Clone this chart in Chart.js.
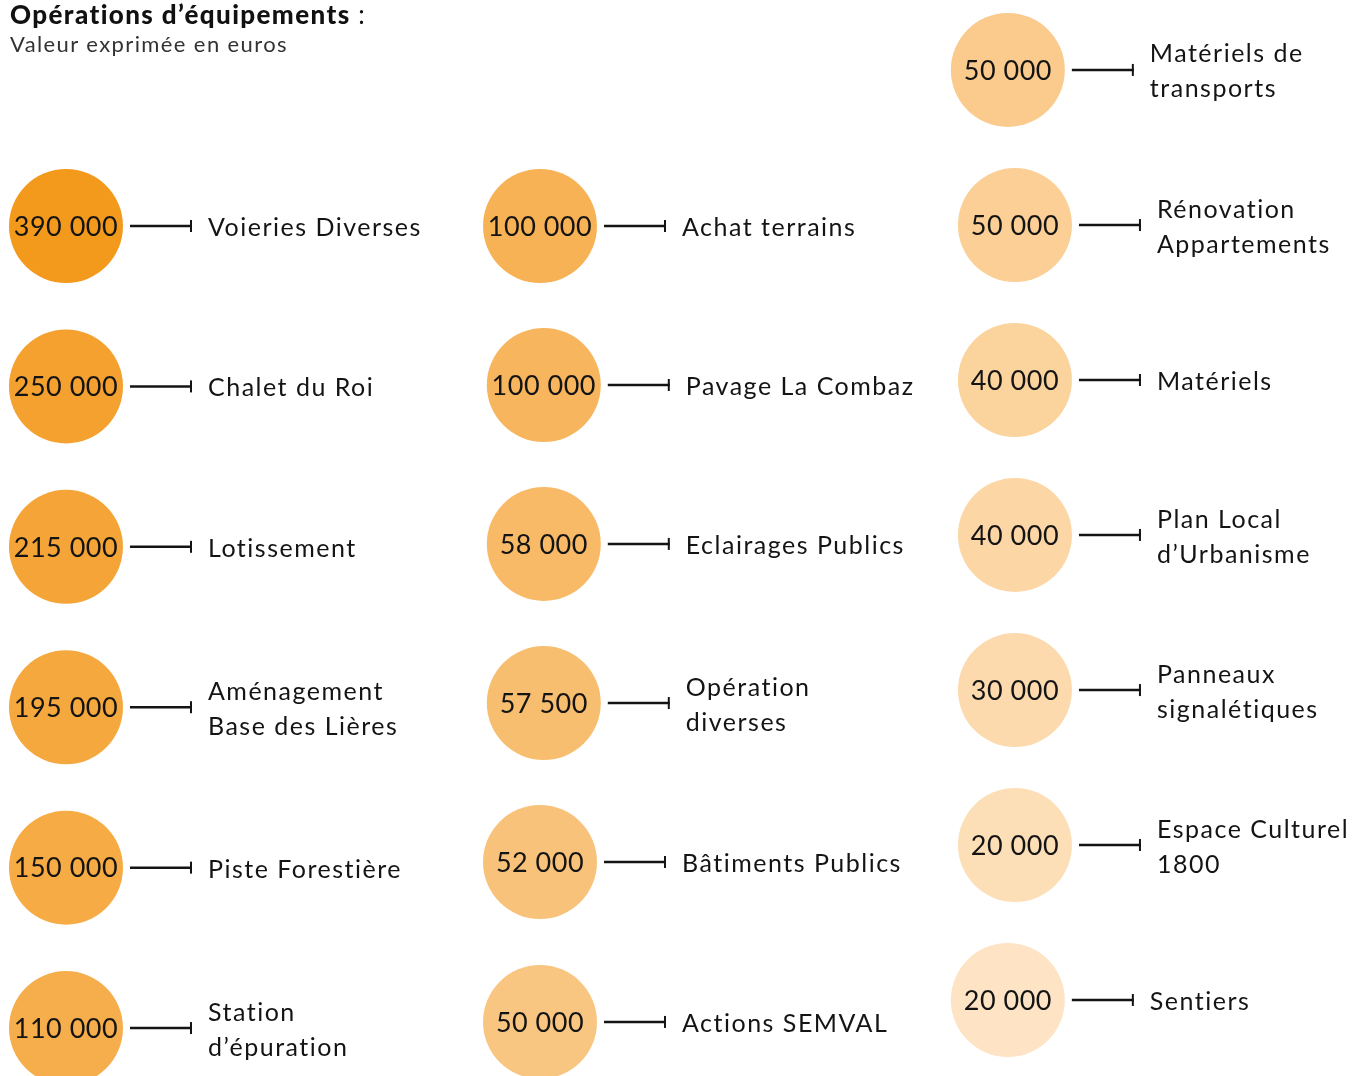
<!DOCTYPE html>
<html lang="fr">
<head>
<meta charset="utf-8">
<script src="https://cdn.jsdelivr.net/npm/chart.js@4/dist/chart.umd.min.js"></script>
<style>
  html, body { margin: 0; padding: 0; background: #fff; }
  #wrap { position: relative; width: 1357px; height: 1076px; overflow: hidden; }
  #titre { position: absolute; left: 10px; top: -1px; font-family: Lato, sans-serif; color: #111; }
  #titre .t1 { font-size: 26px; font-weight: 900; line-height: 30px; letter-spacing: 1.4px; }
  #titre .t1 span { font-weight: 400; }
  #titre .t2 { font-size: 22px; line-height: 30px; color: #333; letter-spacing: 1.4px; }
  canvas { position: absolute; left: 0; top: 0; }
</style>
</head>
<body>
<div id="wrap">
  <canvas id="bulles" width="1357" height="1076"></canvas>
  <div id="titre">
    <div class="t1">Opérations d’équipements <span>:</span></div>
    <div class="t2">Valeur exprimée en euros</div>
  </div>
</div>
<script>
// postes d'investissement (une ligne de texte par élément du tableau)
const postes = [
  ["Voieries Diverses"], ["Chalet du Roi"], ["Lotissement"], ["Aménagement", "Base des Lières"],
  ["Piste Forestière"], ["Station", "d’épuration"],
  ["Achat terrains"], ["Pavage La Combaz"], ["Eclairages Publics"], ["Opération", "diverses"],
  ["Bâtiments Publics"], ["Actions SEMVAL"],
  ["Matériels de", "transports"], ["Rénovation", "Appartements"], ["Matériels"], ["Plan Local", "d’Urbanisme"],
  ["Panneaux", "signalétiques"], ["Espace Culturel", "1800"], ["Sentiers"]
];
const montants = [390000, 250000, 215000, 195000, 150000, 110000,
  100000, 100000, 58000, 57500, 52000, 50000,
  50000, 50000, 40000, 40000, 30000, 20000, 20000];
// emplacement dans la grille : colonne et rang
const colonnes = [0, 0, 0, 0, 0, 0,
  1, 1.008, 1.008, 1.008, 1, 1,
  1.987, 2.002, 2.002, 2.002, 2.002, 2.002, 1.987];
const rangs = [1, 2, 3, 4, 5, 6,
  1, 1.991, 2.982, 3.974, 4.965, 5.962,
  0.027, 0.994, 1.96, 2.926, 3.893, 4.859, 5.825];
const couleurs = ["#F39A1C", "#F4A130", "#F5A537", "#F5A83E", "#F6AB44", "#F6AE4C",
  "#F7B256", "#F7B55E", "#F8BA67", "#F8BE70", "#F9C27A", "#F9C682",
  "#FACB8C", "#FBCF95", "#FBD39D", "#FCD6A4", "#FCDAAD", "#FDDFB7", "#FEE4C4"];

const fmt = v => v.toLocaleString("fr-FR").replace(/\s/g, " ");

const etiquettes = {
  id: "etiquettes",
  afterDatasetsDraw(chart) {
    const ctx = chart.ctx;
    const meta = chart.getDatasetMeta(0);
    ctx.save();
    ctx.fillStyle = "#141414";
    ctx.strokeStyle = "#141414";
    meta.data.forEach((pt, i) => {
      const x = pt.x, y = pt.y;
      // montant au centre
      ctx.font = "27px Lato";
      ctx.textAlign = "center";
      ctx.textBaseline = "middle";
      ctx.letterSpacing = "0.5px";
      ctx.fillText(fmt(montants[i]), x, y + 1);
      // trait de liaison
      ctx.lineWidth = 2.5;
      ctx.beginPath();
      ctx.moveTo(x + 64, y);
      ctx.lineTo(x + 126, y);
      ctx.stroke();
      ctx.lineWidth = 2;
      ctx.beginPath();
      ctx.moveTo(x + 125, y - 6);
      ctx.lineTo(x + 125, y + 6);
      ctx.stroke();
      // libellé
      ctx.font = "25px Lato";
      ctx.textAlign = "left";
      ctx.letterSpacing = "1.5px";
      const lignes = postes[i];
      const y0 = y + 2 - (lignes.length - 1) * 35 / 2;
      lignes.forEach((l, k) => ctx.fillText(l, x + 142, y0 + k * 35));
    });
    ctx.restore();
  }
};

new Chart(document.getElementById("bulles"), {
  type: "bubble",
  data: {
    datasets: [{
      data: montants.map((v, i) => ({ x: colonnes[i], y: rangs[i], r: 57 })),
      backgroundColor: couleurs,
      hoverBackgroundColor: couleurs,
      borderWidth: 0,
      hoverBorderWidth: 0,
      clip: false
    }]
  },
  options: {
    responsive: false,
    animation: false,
    events: [],
    layout: { padding: 0, autoPadding: false },
    plugins: { legend: { display: false }, tooltip: { enabled: false } },
    scales: {
      x: { type: "linear", display: false, min: -0.1392, max: 2.7236 },
      y: { type: "linear", display: false, min: -0.409, max: 6.299, reverse: true }
    }
  },
  plugins: [etiquettes]
});
</script>
</body>
</html>
